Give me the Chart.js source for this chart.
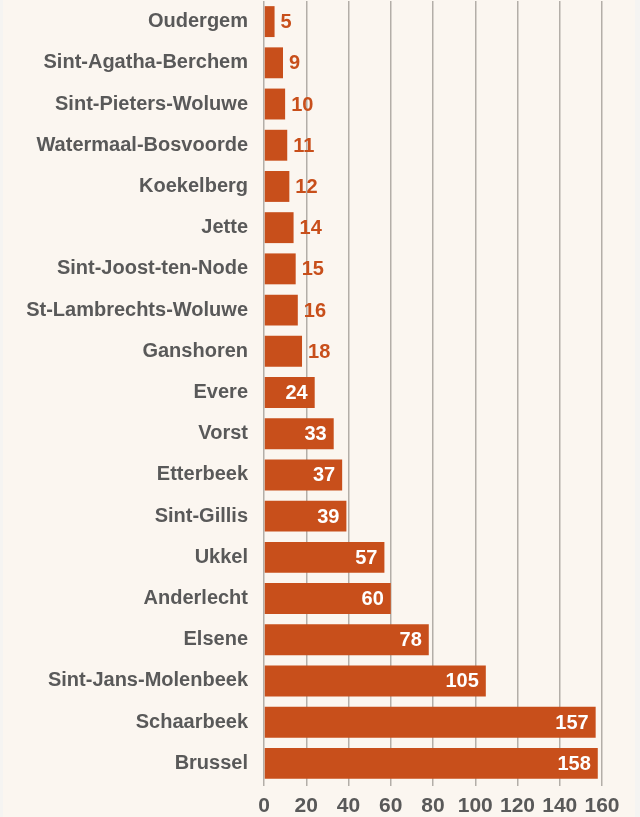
<!DOCTYPE html>
<html lang="nl">
<head>
  <meta charset="UTF-8">
  <title>Brusselse gemeenten</title>
  <script src="https://cdn.jsdelivr.net/npm/chart.js"></script>
  <style>
    body {
      margin: 0;
      padding: 0;
      background-color: #f5f4f2;
    }
    .wrap {
      position: absolute;
      left: 3px;
      top: 0;
      width: 632px;
      height: 817px;
      background-color: #fbf6f0;
    }
  </style>
</head>
<body>
  <div class="wrap">
    <canvas id="chart" width="632" height="817"></canvas>
  </div>
  <script>
    const gemeenten = [
      "Oudergem", "Sint-Agatha-Berchem", "Sint-Pieters-Woluwe", "Watermaal-Bosvoorde",
      "Koekelberg", "Jette", "Sint-Joost-ten-Node", "St-Lambrechts-Woluwe", "Ganshoren",
      "Evere", "Vorst", "Etterbeek", "Sint-Gillis", "Ukkel", "Anderlecht", "Elsene",
      "Sint-Jans-Molenbeek", "Schaarbeek", "Brussel"
    ];
    const waarden = [5, 9, 10, 11, 12, 14, 15, 16, 18, 24, 33, 37, 39, 57, 60, 78, 105, 157, 158];
    const asMin = 0;
    const asMax = 160;
    const asStap = 20;

    const oranje = "#c84f1b";
    const grijs = "#595959";

    // waarden bij de balken: wit binnenin, oranje erbuiten bij kleine balken
    const labelPlugin = {
      id: "waardeLabels",
      afterDatasetsDraw(chart) {
        const ctx = chart.ctx;
        const meta = chart.getDatasetMeta(0);
        ctx.save();
        ctx.font = "bold 20px 'Liberation Sans', Arial, sans-serif";
        ctx.textBaseline = "middle";
        meta.data.forEach((bar, i) => {
          const v = waarden[i];
          if (v >= 20) {
            ctx.fillStyle = "#ffffff";
            ctx.textAlign = "right";
            ctx.fillText(String(v), bar.x - 7, bar.y + 1);
          } else {
            ctx.fillStyle = oranje;
            ctx.textAlign = "left";
            ctx.fillText(String(v), bar.x + 6, bar.y + 1);
          }
        });
        ctx.restore();
      }
    };

    new Chart(document.getElementById("chart"), {
      type: "bar",
      data: {
        labels: gemeenten,
        datasets: [{
          data: waarden,
          backgroundColor: oranje,
          barPercentage: 0.75,
          categoryPercentage: 1
        }]
      },
      plugins: [labelPlugin],
      options: {
        indexAxis: "y",
        responsive: false,
        animation: false,
        layout: { padding: { top: 1, right: 33, bottom: 0, left: 0 } },
        plugins: {
          legend: { display: false },
          tooltip: { enabled: false }
        },
        scales: {
          x: {
            min: asMin,
            max: asMax,
            border: { display: false },
            grid: { color: "#b3aea8", lineWidth: 1.5, drawTicks: true, tickLength: 2 },
            ticks: {
              stepSize: asStap,
              color: grijs,
              padding: 8,
              font: { family: "'Liberation Sans', Arial, sans-serif", size: 21, weight: "bold" }
            },
            afterFit: (scale) => { scale.height = 33; }
          },
          y: {
            border: { display: false },
            grid: { display: false, drawTicks: false },
            ticks: {
              color: grijs,
              padding: 16,
              font: { family: "'Liberation Sans', Arial, sans-serif", size: 20, weight: "bold" }
            },
            afterFit: (scale) => {
              scale.width = 261;
              scale.paddingTop = 0;
              scale.paddingBottom = 0;
            }
          }
        }
      }
    });
  </script>
</body>
</html>
